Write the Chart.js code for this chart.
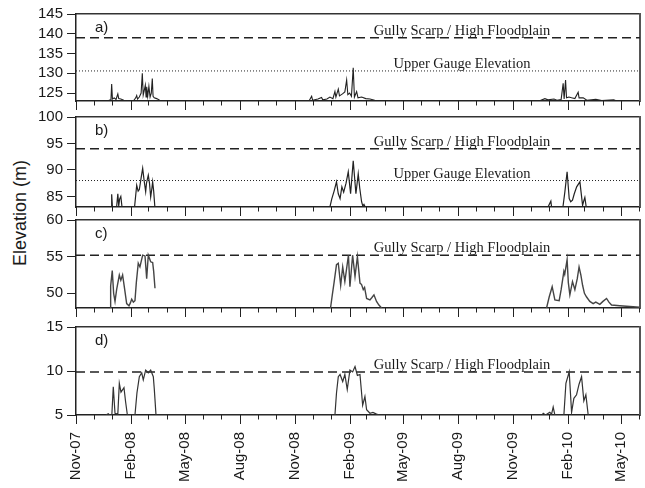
<!DOCTYPE html>
<html><head><meta charset="utf-8">
<script src="https://cdn.jsdelivr.net/npm/chart.js@4.4.1/dist/chart.umd.min.js"></script>
<style>
html,body{margin:0;padding:0;background:#fff;width:645px;height:488px;overflow:hidden;}
canvas{position:absolute;left:0;}
#ytitle{position:absolute;left:20px;top:213px;transform:translate(-50%,-50%) rotate(-90deg);font:18px "Liberation Sans",Arial,sans-serif;color:#1a1a1a;white-space:nowrap;}
</style></head><body>
<div id="ytitle">Elevation (m)</div>
<canvas id="ca" width="645" height="113" style="top:0px"></canvas>
<canvas id="cb" width="645" height="116" style="top:103px"></canvas>
<canvas id="cc" width="645" height="114" style="top:206px"></canvas>
<canvas id="cd" width="645" height="175" style="top:313px"></canvas>
<script>
// ---- x axis: days since 1 Nov 2007 ----
const xMin = 0, xMax = 944;
const monthStarts = [0,30,61,92,121,152,182,213,243,274,305,335,366,396,427,458,486,517,547,578,608,639,670,700,731,761,792,823,851,882,912,943];
const xTickDays = [0,92,182,274,366,458,547,639,731,823,912];
const xTickLabels = ['Nov-07','Feb-08','May-08','Aug-08','Nov-08','Feb-09','May-09','Aug-09','Nov-09','Feb-10','May-10'];

// ---- y ticks ----
const yTicksA = [125,130,135,140,145];
const yTicksB = [85,90,95,100];
const yTicksC = [50,55,60];
const yTicksD = [5,10,15];

// ---- reference levels ----
const scarpA = 139, gaugeA = 130.6;
const scarpB = 94, gaugeB = 88;
const scarpC = 55.2;
const scarpD = 9.9;

// ---- panel a ----
const aDays = [45,55,58.5,59.7,61,64,67,70,71.5,75,80,90,
  96,100,101.6,103,106,109,111,112.5,114,116,117.3,118.3,120,122,124,126,127.7,129,131,135,140,145,
  390,394.4,396,405,411,413,420,425,430,433.4,435,439,441,446,450,453,455,458,461,464,466,469.7,472,478,485,492,500,506,
  775,784.8,790,800,805,812,815.4,817,819.4,821,825,829.5,835,840.5,842,849,855,870,880,900,905];
const aVals = [123,123.2,123.3,127.3,123.5,123.8,123.4,124.8,123.6,123.5,123.2,123,
  123,123.8,124.4,123.5,124,125,130,124.5,125.5,127,124,126.6,124.2,126.7,124,125,128.7,124.2,123.8,123.6,123.2,123,
  123,124.2,123.2,123.5,123.9,123.3,123.5,124,123.6,125.4,124,126,124.3,124.8,125.3,128.3,124.6,125,124.2,131.4,124,125.4,123.8,124,123.6,123.5,123.2,123,
  123,123.6,123.3,123.5,123.2,123.4,127.5,123.5,128.3,123.8,124,123.8,123.6,125.2,123.8,123.8,123.2,123.4,123.1,123.3,123];

// ---- panel b ----
const bDays = [55,59,59.7,61,68,70,71.5,73,75,77,
  98,101.6,104,106,109,111.6,114,116.6,118,121,123,125,127,128.3,130,132,
  425,428,432,436,439,442,445,448,452,455.7,459.6,464,468.5,472.4,475,478,480,482,484,
  790,794.8,796,815,818.3,822,825.5,828,831,834,838,843.4,847.9,850,851.7,854];
const bVals = [83,83,85.4,83,83,85.5,83.2,84.5,85,83,
  83,87.1,86,86.3,88.5,90.3,88,85.9,87.5,89,87.5,84.9,86.5,87.75,86,83,
  83,84.5,86,87.75,85.5,84.6,86.8,85.8,87.5,89.65,85.5,91.75,85.5,89.3,86.5,84,83.2,83.5,83,
  83,84.1,83,83,85.9,89.65,84.6,84,84.3,85.5,86.8,87.75,83.3,84.2,84.8,83];

// ---- panel c ----
const cDays = [57,58,60.7,63,65.3,68,72.5,75,78,81,84.8,88.7,91,93.2,96,98.7,101,104.2,107,111.6,115.5,118.3,121,125,128.3,130,132.2,133,
  426,429,432,436,439,443,446.4,450,456,458.5,463,467,471,475.3,478,480.8,483,486.4,492,495,498.7,503,507,511.5,512,
  787.6,792,797,801.5,808.7,812,816.6,818,822,824,826.6,831,835,839,842,845,847.9,851,854.6,860,865.6,870,876.8,882,888,892,896.4,910,927,943];
const cVals = [48,51,53.1,50,48.9,50.5,52.5,51.8,52.5,50.8,48.6,48.3,48.7,49.2,48.8,49,51.5,54.1,53.6,55.2,55.1,52,55.2,54.3,54.2,53,50.7,null,
  48,49.8,51.5,53.9,54.1,51.1,53.6,51.6,55.2,50.9,55.2,52.3,55,51.4,51.2,50.5,50.8,49.3,49.1,49.4,49.8,48.9,48.4,48,null,
  48,49.5,50.9,49.1,49,50.5,53,52.6,54.6,51.5,49.8,51.6,50.5,52,53.6,52.5,51.1,50,49.5,48.9,48.6,48.8,48.5,48.9,49.3,48.8,48.4,48.3,48.2,48.1];

// ---- panel d ----
const dDays = [50,54,56,60,62.4,65.3,70,72.5,75.3,80.3,83,86,98.7,102,106,110,112.6,116.6,121,125,129.4,131,133.9,
  433.4,436,439,442,446.4,450,454,458.5,463,467,471,475.3,479.8,483.6,486.4,492,497,503,508,
  780,782,786,793,796,798.7,801.5,816.6,820,825.5,829.5,833.3,837.8,842,846.2,850,853.4,857.3];
const dVals = [5,5.15,5,5,8.2,5.2,5.1,8.6,7.6,8.1,6.5,5,5,7.5,9.35,9.8,9,10.1,9.8,10.1,9.35,8,5,
  5,7.5,9.35,9.6,8.8,9.6,7.9,10.1,9.9,10.5,9.5,9.6,6.1,7.1,5.6,5.2,5.3,5.1,5,
  5,5.2,5,5.3,5.1,5.9,5,5,8.6,9.9,5.3,6.9,7.3,8.5,9.35,6.6,7.3,5];

const SANS = '"Liberation Sans", Arial, sans-serif';
const SERIF = '"Liberation Serif", "Times New Roman", serif';
const INK = '#1a1a1a';

function toXY(days, vals){ return days.map((d,i)=>({x:d, y:vals[i]})); }

function makeDecor(label, notes){
  return {
    id:'decor_'+label,
    afterDraw(chart){
      const {ctx, chartArea:{left,right,top,bottom}, scales:{x,y}} = chart;
      ctx.save();
      ctx.strokeStyle = '#222'; ctx.lineWidth = 1;
      monthStarts.forEach((m,i)=>{
        const px = Math.round(x.getPixelForValue(m)) + 0.5;
        if (px < left-1 || px > right+1) return;
        const len = (i % 3 === 0) ? 9 : 4.5;
        ctx.beginPath(); ctx.moveTo(px, bottom); ctx.lineTo(px, bottom+len); ctx.stroke();
      });
      ctx.fillStyle = INK;
      ctx.font = '15px ' + SANS;
      ctx.textAlign = 'left'; ctx.textBaseline = 'middle';
      ctx.fillText(label, left+19, top+14);
      ctx.font = '14.5px ' + SERIF;
      ctx.textAlign = 'center'; ctx.textBaseline = 'alphabetic';
      notes.forEach(n=>{
        ctx.fillText(n.text, x.getPixelForValue(n.day), y.getPixelForValue(n.value) - n.lift);
      });
      ctx.restore();
    }
  };
}

function makePanel(id, cfg){
  const datasets = [
    {data: toXY(cfg.days, cfg.vals), borderColor: cfg.lineColor, borderWidth: cfg.lineWidth, pointRadius:0, tension:0, spanGaps:false},
    ...cfg.refs.map(r=>({data:[{x:xMin,y:r.value},{x:xMax,y:r.value}], borderColor:'#222', borderWidth:r.width, borderDash:r.dash, pointRadius:0}))
  ];
  new Chart(document.getElementById(id), {
    type:'line',
    data:{datasets},
    options:{
      responsive:false, animation:false, devicePixelRatio:1,
      layout:{padding:{top:14,right:5,left:0,bottom:0}},
      plugins:{legend:{display:false}, tooltip:{enabled:false}},
      scales:{
        x:{type:'linear', position:'bottom', min:xMin, max:xMax,
          afterBuildTicks: s=>{ s.ticks = xTickDays.map(v=>({value:v})); },
          ticks:{display:cfg.showX, autoSkip:false, minRotation:90, maxRotation:90, padding:17,
            font:{family:SANS, size:15}, color:INK, callback:(v,i)=>xTickLabels[i]},
          grid:{display:false, drawTicks:false},
          border:{display:true, color:'#222', width:1.5},
          afterFit: s=>{ s.height = cfg.xH; s.paddingLeft = 0; s.paddingRight = 0; }
        },
        xT:{type:'linear', position:'top', min:xMin, max:xMax,
          ticks:{display:false}, grid:{display:false, drawTicks:false},
          border:{display:true, color:'#333', width:1.5},
          afterFit: s=>{ s.height = 0; s.paddingLeft = 0; s.paddingRight = 0; }
        },
        y:{type:'linear', position:'left', min:cfg.yMin, max:cfg.yMax,
          afterBuildTicks: s=>{ s.ticks = cfg.yTicks.map(v=>({value:v})); },
          ticks:{font:{family:SANS, size:15}, color:INK, padding:4},
          grid:{drawOnChartArea:false, drawTicks:true, tickLength:9, color:'#222', lineWidth:1},
          border:{display:true, color:'#222', width:1.5},
          afterFit: s=>{ s.width = 76; s.paddingTop = 0; s.paddingBottom = 0; }
        },
        yR:{type:'linear', position:'right', min:0, max:1,
          ticks:{display:false}, grid:{display:false, drawTicks:false},
          border:{display:true, color:'#555', width:2},
          afterFit: s=>{ s.width = 0; s.paddingTop = 0; s.paddingBottom = 0; }
        }
      }
    },
    plugins:[makeDecor(cfg.label, cfg.notes)]
  });
}

const DASH = [9,5], DOT = [1,2];
const GULLY = 'Gully Scarp / High Floodplain';
const GAUGE = 'Upper Gauge Elevation';

makePanel('ca', {label:'a)', days:aDays, vals:aVals, yMin:123, yMax:145, yTicks:yTicksA,
  lineColor:'#222', lineWidth:1.1, showX:false, xH:12,
  refs:[{value:scarpA, dash:DASH, width:1.5},{value:gaugeA, dash:DOT, width:1}],
  notes:[{text:GULLY, day:646, value:scarpA, lift:3},{text:GAUGE, day:646, value:gaugeA, lift:3}]});
makePanel('cb', {label:'b)', days:bDays, vals:bVals, yMin:83, yMax:100, yTicks:yTicksB,
  lineColor:'#222', lineWidth:1.2, showX:false, xH:12,
  refs:[{value:scarpB, dash:DASH, width:1.5},{value:gaugeB, dash:DOT, width:1}],
  notes:[{text:GULLY, day:646, value:scarpB, lift:3},{text:GAUGE, day:646, value:gaugeB, lift:3}]});
makePanel('cc', {label:'c)', days:cDays, vals:cVals, yMin:48, yMax:60, yTicks:yTicksC,
  lineColor:'#444', lineWidth:1.4, showX:false, xH:12,
  refs:[{value:scarpC, dash:DASH, width:1.5}],
  notes:[{text:GULLY, day:646, value:scarpC, lift:3}]});
makePanel('cd', {label:'d)', days:dDays, vals:dVals, yMin:5, yMax:15, yTicks:yTicksD,
  lineColor:'#333', lineWidth:1.2, showX:true, xH:73,
  refs:[{value:scarpD, dash:DASH, width:1.5}],
  notes:[{text:GULLY, day:646, value:scarpD, lift:3}]});
</script>
</body></html>
